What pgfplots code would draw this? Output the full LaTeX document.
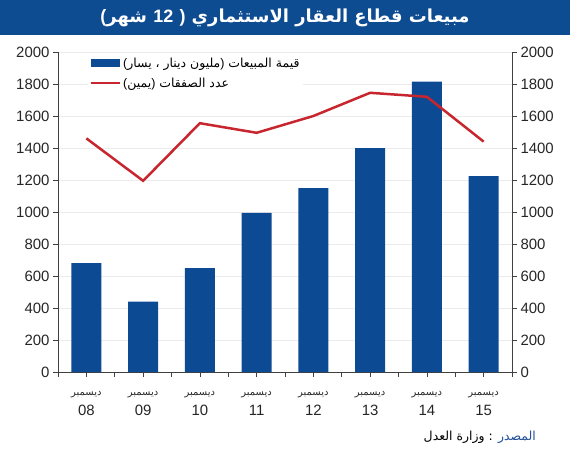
\documentclass[border=0pt]{standalone}
\usepackage{fontspec}
\setmainfont{Liberation Sans}
\newfontfamily\ar[Script=Arabic]{DejaVu Sans}
\usepackage{pgfplots}
\pgfplotsset{compat=1.18}
\TeXXeTstate=1
\definecolor{barblue}{HTML}{0D4A94}
\definecolor{linered}{HTML}{C8262E}
\definecolor{titleblue}{HTML}{0E4C92}
\definecolor{srcblue}{HTML}{1F4E99}

\pgfplotstableread{
x val
0 680
1 440
2 650
3 995
4 1150
5 1400
6 1815
7 1225
}\bars
\pgfplotstableread{
x val
0 1460
1 1195
2 1555
3 1495
4 1600
5 1745
6 1720
7 1440
}\deals

\newcommand{\lp}{{\rmfamily(}}
\newcommand{\rp}{{\rmfamily)}}
\newcommand{\dm}{{\ar\fontsize{10}{11}\selectfont \beginR ديسمبر\endR}}

\begin{document}
\begin{tikzpicture}[x=1bp,y=1bp]
\useasboundingbox (0,0) rectangle (570,-450);
\fill[titleblue] (0,0) rectangle (570,-35);
\node[text=white, font=\ar\bfseries\fontsize{18}{20}\selectfont, inner sep=0pt] at (285,-18)
 {\lp{\beginR شهر\endR} {\rmfamily 12} \rp\ \beginR مبيعات قطاع العقار الاستثماري\endR};

\pgfplotsset{common/.style={
  at={(58bp,-372bp)}, anchor=south west,
  scale only axis, width=454bp, height=320bp,
  xmin=-0.5, xmax=7.5, ymin=0, ymax=2000,
  ytick={0,200,...,2000},
  tick align=outside,
  major tick length=5bp, minor tick length=5bp,
  tick style={black!75, line width=0.6pt},
  axis line style={black!75, line width=0.6pt},
  ticklabel style={font=\fontsize{15}{17}\selectfont, text=black!85},
  /pgf/number format/assume math mode=true,
  /pgf/number format/1000 sep={},
}}

\begin{axis}[common,
  axis y line*=left, axis x line*=bottom,
  xtick={0,...,7},
  minor xtick={-0.5,0.5,...,7.5},
  xticklabels={{\dm\\08},{\dm\\09},{\dm\\10},{\dm\\11},{\dm\\12},{\dm\\13},{\dm\\14},{\dm\\15}},
  xticklabel style={align=center, font=\fontsize{15}{20}\selectfont, yshift=-11bp},
  ymajorgrids, grid style={black!8, line width=0.6pt},
  legend style={at={(0.065,0.995)}, anchor=north west, draw=none, fill=white,
    font=\ar\fontsize{12.5}{14}\selectfont, row sep=5bp, inner sep=2bp},
  legend cell align=left,
]
\addplot[ybar, bar width=30bp, fill=barblue, draw=none,
  legend image code/.code={\fill[barblue] (0bp,-4bp) rectangle (29bp,4bp);}]
  table[x=x,y=val]{\bars};
\addlegendentry{\lp\beginR يسار\endR\ ،\ \beginR مليون دينار\endR\rp\ \beginR قيمة المبيعات\endR}
\addlegendimage{linered, line width=2.5bp,
  legend image code/.code={\draw[linered, line width=2.5bp] (0bp,0bp) -- (29bp,0bp);}}
\addlegendentry{\lp\beginR يمين\endR\rp\ \beginR عدد الصفقات\endR}
\end{axis}

\begin{axis}[common,
  axis y line*=right, axis x line=none,
]
\addplot[linered, line width=2.5bp, mark=none] table[x=x,y=val]{\deals};
\end{axis}

\node[anchor=east, font=\ar\fontsize{12.5}{15}\selectfont, inner sep=0pt] at (536,-437.5)
 {\beginR وزارة العدل\endR{} : {\color{srcblue}\beginR المصدر\endR}};
\end{tikzpicture}
\end{document}
